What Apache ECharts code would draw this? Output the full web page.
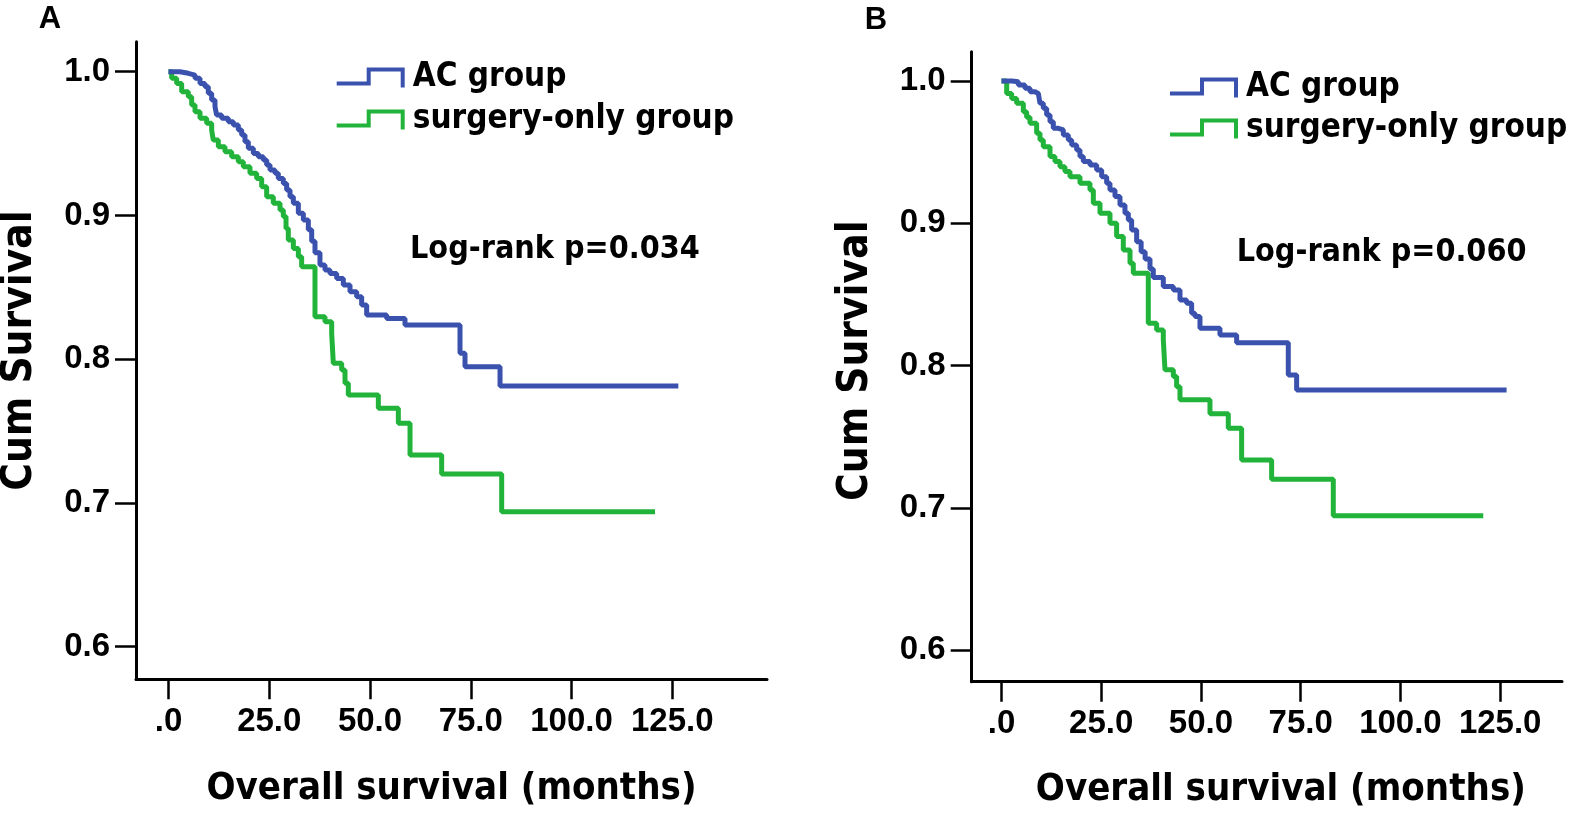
<!DOCTYPE html>
<html>
<head>
<meta charset="utf-8">
<script src="https://cdn.jsdelivr.net/npm/echarts@6/dist/echarts.min.js"></script>
<style>
  html, body { margin: 0; padding: 0; background: #fff; }
  #chart { width: 1594px; height: 814px; }
</style>
</head>
<body>
<div id="chart"></div>
<script>
// ---------------- data ----------------
const panelLabels = ['A', 'B'];
const seriesNames = ['AC group', 'surgery-only group'];
const xTickValues = [0, 25, 50, 75, 100, 125];
const yTickValues = [0.6, 0.7, 0.8, 0.9, 1.0];
const xTitle = 'Overall survival (months)';
const yTitle = 'Cum Survival';
const logRankTexts = ['Log-rank p=0.034', 'Log-rank p=0.060'];

// Panel A: [months, cumulative survival]
const panelA_AC = [
  [0,1.0],[2.85,0.9989],[4.92,0.9977],[6.58,0.9954],[7.82,0.9919],[9.06,0.9896],[9.88,0.9850],
  [10.71,0.9803],[11.54,0.9757],[11.95,0.9699],[13.19,0.9676],[14.85,0.9652],[16.09,0.9629],
  [17.33,0.9594],[18.16,0.9560],[18.98,0.9513],[19.81,0.9467],[21.05,0.9432],[22.29,0.9409],
  [23.53,0.9386],[24.36,0.9351],[25.19,0.9316],[26.43,0.9293],[27.25,0.9258],[28.49,0.9223],
  [29.32,0.9177],[30.15,0.9131],[30.98,0.9085],[32.22,0.9015],[33.46,0.8968],[34.70,0.8900],
  [35.53,0.8820],[36.35,0.8740],[37.59,0.8655],[38.83,0.8620],[40.07,0.8597],[41.73,0.8562],
  [43.38,0.8516],[45.04,0.8470],[46.69,0.8435],[47.93,0.8377],[49.17,0.8307],[54.14,0.8284],
  [58.68,0.8238],[72.33,0.8041],[73.57,0.7948],[82.26,0.7814],[126.5,0.7814]
];
const panelA_Surgery = [
  [0,1.0],[0.79,0.9954],[2.03,0.9919],[3.27,0.9861],[4.92,0.9826],[5.75,0.9768],[6.58,0.9722],
  [7.82,0.9676],[9.47,0.9641],[10.71,0.9594],[11.12,0.9525],[12.37,0.9478],[14.02,0.9443],
  [15.67,0.9409],[17.33,0.9374],[18.57,0.9339],[20.22,0.9293],[21.88,0.9258],[23.12,0.9200],
  [24.36,0.9131],[26.01,0.9085],[27.67,0.9038],[28.49,0.8992],[29.16,0.8909],[29.73,0.8829],
  [30.98,0.8771],[32.22,0.8713],[33.04,0.8644],[36.35,0.8296],[38.83,0.8261],[40.49,0.8180],
  [40.90,0.7971],[42.97,0.7925],[43.80,0.7832],[44.62,0.7751],[52.07,0.7658],[57.03,0.7554],
  [59.93,0.7333],[67.78,0.7201],[82.67,0.6939],[120.72,0.6939]
];
// Panel B
const panelB_AC = [
  [0,1.0],[2.55,0.9995],[4.22,0.9972],[5.89,0.9949],[7.14,0.9925],[8.40,0.9913],[9.23,0.9902],
  [9.65,0.9843],[10.48,0.9808],[11.32,0.9761],[12.16,0.9714],[12.99,0.9668],[14.24,0.9656],
  [15.50,0.9621],[16.75,0.9586],[17.59,0.9551],[18.84,0.9515],[19.67,0.9469],[20.51,0.9434],
  [22.18,0.9410],[23.85,0.9375],[25.11,0.9328],[26.36,0.9281],[27.19,0.9235],[28.45,0.9188],
  [29.70,0.9129],[30.95,0.9071],[31.79,0.9024],[32.62,0.8954],[33.88,0.8870],[35.00,0.8800],
  [36.00,0.8750],[37.22,0.8680],[38.05,0.8620],[40.56,0.8556],[43.07,0.8532],[44.74,0.8462],
  [46.41,0.8439],[47.66,0.8369],[48.50,0.8345],[49.75,0.8263],[54.76,0.8216],[58.94,0.8162],
  [71.89,0.7935],[73.98,0.7830],[126.61,0.7830]
];
const panelB_Surgery = [
  [0,1.0],[1.30,0.9913],[2.55,0.9878],[3.80,0.9843],[5.47,0.9785],[6.30,0.9745],[7.14,0.9703],
  [8.81,0.9633],[9.65,0.9585],[10.48,0.9539],[12.16,0.9469],[13.40,0.9435],[14.66,0.9398],
  [15.90,0.9365],[17.17,0.9328],[19.67,0.9281],[22.18,0.9235],[23.02,0.9141],[24.69,0.9071],
  [27.19,0.9000],[28.86,0.8907],[30.53,0.8813],[32.21,0.8720],[33.04,0.8649],[36.80,0.8298],
  [38.89,0.8251],[40.56,0.8181],[40.98,0.7971],[43.07,0.7924],[43.90,0.7853],[44.74,0.7760],
  [52.26,0.7662],[56.85,0.7561],[60.19,0.7338],[67.71,0.7203],[83.17,0.6945],[120.76,0.6945]
];

// ---------------- styling ----------------
const BLUE = '#3a52ae';
const GREEN = '#22b33b';
const NUM_FONT = "'Liberation Sans', Arial, sans-serif";
const TXT_FONT = "'DejaVu Sans Condensed', 'DejaVu Sans', Verdana, sans-serif";
const LEGEND_ICON = 'path://M0,14 L30,14 L30,0 L68,0 L68,20 L64,20 L64,4 L34,4 L34,18 L0,18 Z';

const panels = [
  { grid: { left: 136, top: 41.7, width: 631, height: 637.6 },
    x: [-8.06, 148.5], y: [0.5773, 1.0209],
    xNameGap: 91, xNamePad: 0, yNameGap: 95, yNamePad: 20,
    ac: panelA_AC, surgery: panelA_Surgery,
    legend: { left: 336.7, top: 61, itemGap: 9 },
    logRank: { x: 410, y: 253 },
    label: { x: 50, y: 19 } },
  { grid: { left: 971.7, top: 51.7, width: 590.3, height: 630 },
    x: [-7.47, 140.5], y: [0.578, 1.0206],
    xNameGap: 89, xNamePad: 28, yNameGap: 95, yNamePad: 12,
    ac: panelB_AC, surgery: panelB_Surgery,
    legend: { left: 1170, top: 71, itemGap: 8 },
    logRank: { x: 1236.7, y: 256 },
    label: { x: 876, y: 20 } }
];

const grids = [], xAxes = [], yAxes = [], series = [], legends = [], graphics = [];
panels.forEach((p, i) => {
  grids.push(Object.assign({ containLabel: false, outerBoundsMode: 'none' }, p.grid));
  xAxes.push({
    type: 'value', gridIndex: i, min: p.x[0], max: p.x[1],
    name: xTitle, nameLocation: 'middle', nameGap: p.xNameGap, nameMoveOverlap: false,
    nameTextStyle: { fontFamily: TXT_FONT, fontWeight: 'bold', fontSize: 38, color: '#000',
      padding: [0, 0, 0, p.xNamePad] },
    axisLine: { show: true, onZero: false, lineStyle: { color: '#000', width: 3 } },
    axisTick: { show: true, customValues: xTickValues, length: 20, lineStyle: { color: '#000', width: 2.5 } },
    axisLabel: { show: true, customValues: xTickValues, margin: 26,
      formatter: v => (v === 0 ? '.0' : v.toFixed(1)),
      fontFamily: NUM_FONT, fontWeight: 'bold', fontSize: 33, color: '#000' },
    splitLine: { show: false }
  });
  yAxes.push({
    type: 'value', gridIndex: i, min: p.y[0], max: p.y[1],
    name: yTitle, nameLocation: 'middle', nameGap: p.yNameGap, nameMoveOverlap: false,
    nameTextStyle: { fontFamily: TXT_FONT, fontWeight: 'bold', fontSize: 42, color: '#000',
      padding: [0, 0, 0, p.yNamePad] },
    axisLine: { show: true, onZero: false, lineStyle: { color: '#000', width: 3 } },
    axisTick: { show: true, customValues: yTickValues, length: 21, lineStyle: { color: '#000', width: 2.5 } },
    axisLabel: { show: true, customValues: yTickValues, margin: 26,
      formatter: v => v.toFixed(1),
      fontFamily: NUM_FONT, fontWeight: 'bold', fontSize: 33, color: '#000' },
    splitLine: { show: false }
  });
  [[seriesNames[1], p.surgery, GREEN, 2], [seriesNames[0], p.ac, BLUE, 3]].forEach(([nm, d, c, z]) => {
    series.push({
      name: nm, type: 'line', xAxisIndex: i, yAxisIndex: i, data: d,
      step: 'end', showSymbol: false, symbol: 'none', z: z, animation: false,
      lineStyle: { color: c, width: 5 }, itemStyle: { color: c }
    });
  });
  legends.push({
    orient: 'vertical', left: p.legend.left, top: p.legend.top, itemGap: p.legend.itemGap,
    itemWidth: 68, itemHeight: 20, icon: LEGEND_ICON, selectedMode: false, padding: 0,
    itemStyle: { borderWidth: 0 },
    data: [seriesNames[0], seriesNames[1]],
    textStyle: { fontFamily: TXT_FONT, fontWeight: 'bold', fontSize: 33, lineHeight: 33,
      color: '#000', padding: [0, 0, 0, 3] }
  });
  graphics.push({
    type: 'text', left: p.logRank.x, top: p.logRank.y - 19,
    style: { text: logRankTexts[i], font: 'bold 32px ' + TXT_FONT, fill: '#000' }
  });
  graphics.push({
    type: 'text', x: p.label.x, y: p.label.y,
    style: { text: panelLabels[i], font: 'bold 31px ' + NUM_FONT, fill: '#000',
      align: 'center', verticalAlign: 'middle' }
  });
});

const chart = echarts.init(document.getElementById('chart'), null, { renderer: 'canvas' });
chart.setOption({
  animation: false,
  backgroundColor: '#fff',
  grid: grids, xAxis: xAxes, yAxis: yAxes, series: series,
  legend: legends, graphic: graphics
});
</script>
</body>
</html>
